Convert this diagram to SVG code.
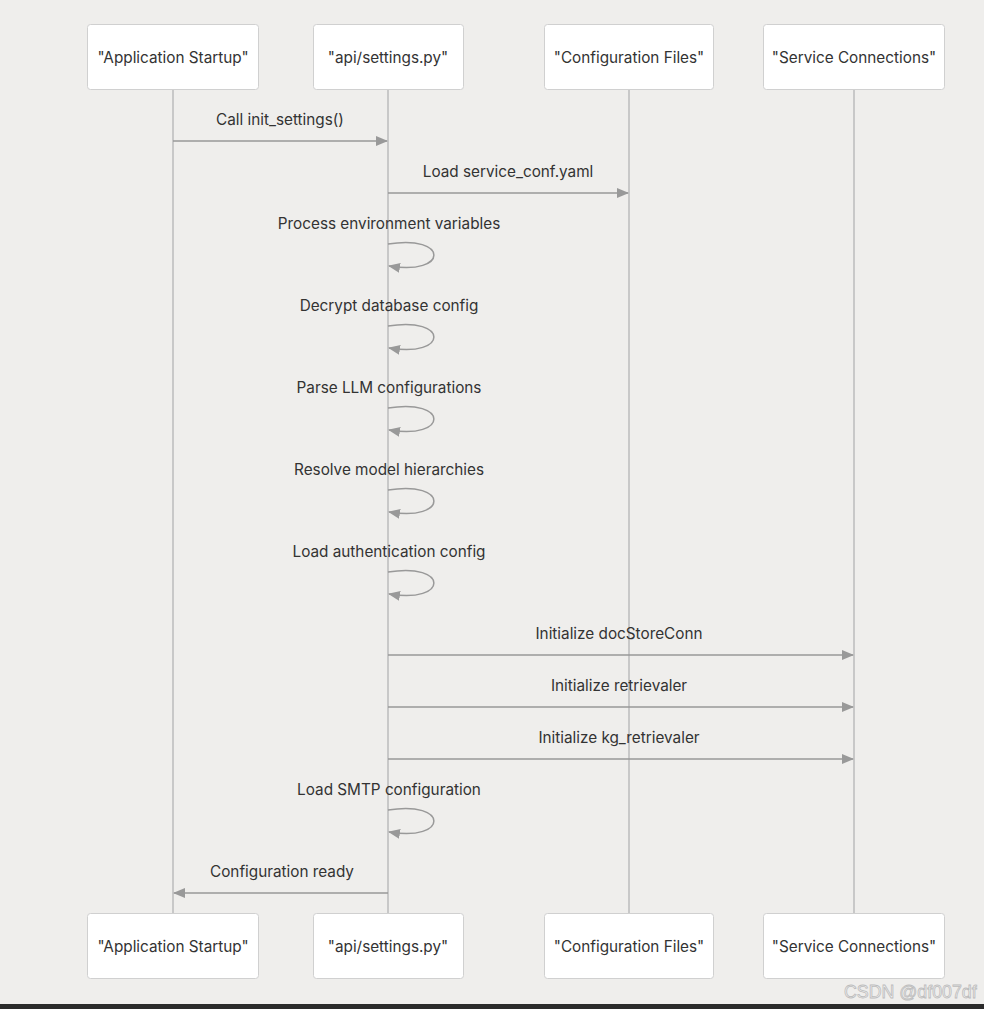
<svg xmlns="http://www.w3.org/2000/svg" width="984" height="1009" viewBox="0 0 984 1009">
<defs>
<style>
.box{fill:#ffffff;stroke:#d0d0d0;stroke-width:1}
.lbl{font-family:Inter,"Liberation Sans",sans-serif;font-size:15.3px;fill:#333333;text-anchor:middle}
.life{stroke:#c8c8c8;stroke-width:2}
.msg{stroke:#999999;stroke-width:1.5;fill:none}
.wm{font-family:"Liberation Sans",Arial,sans-serif;font-size:17.8px;fill:#f2f2f2;stroke:#bcbcbc;stroke-width:0.8}
</style>
<marker id="arr" markerWidth="12" markerHeight="10" refX="11" refY="5" orient="auto" markerUnits="userSpaceOnUse">
<path d="M0,0 L12,5 L0,10 Z" fill="#999999"/>
</marker>
</defs>
<rect x="0" y="0" width="984" height="1009" fill="#efeeec"/>
<g id="lifelines">
<line class="life" x1="173" y1="89" x2="173" y2="913"/>
<line class="life" x1="388" y1="89" x2="388" y2="913"/>
<line class="life" x1="629" y1="89" x2="629" y2="913"/>
<line class="life" x1="854" y1="89" x2="854" y2="913"/>
</g>
<g id="startup-top"><rect class="box" x="87.5" y="24.5" width="171" height="65" rx="3"/><text class="lbl" x="173" y="63">"Application Startup"</text></g>
<g id="settings-top"><rect class="box" x="313.5" y="24.5" width="150" height="65" rx="3"/><text class="lbl" x="388" y="63">"api/settings.py"</text></g>
<g id="config-top"><rect class="box" x="544.5" y="24.5" width="169" height="65" rx="3"/><text class="lbl" x="629" y="63">"Configuration Files"</text></g>
<g id="service-top"><rect class="box" x="763.5" y="24.5" width="181" height="65" rx="3"/><text class="lbl" x="854" y="63">"Service Connections"</text></g>
<g id="startup-bottom"><rect class="box" x="87.5" y="913.5" width="171" height="65" rx="3"/><text class="lbl" x="173" y="952">"Application Startup"</text></g>
<g id="settings-bottom"><rect class="box" x="313.5" y="913.5" width="150" height="65" rx="3"/><text class="lbl" x="388" y="952">"api/settings.py"</text></g>
<g id="config-bottom"><rect class="box" x="544.5" y="913.5" width="169" height="65" rx="3"/><text class="lbl" x="629" y="952">"Configuration Files"</text></g>
<g id="service-bottom"><rect class="box" x="763.5" y="913.5" width="181" height="65" rx="3"/><text class="lbl" x="854" y="952">"Service Connections"</text></g>
<g id="connectors">
<line class="msg" x1="173" y1="141" x2="387" y2="141" marker-end="url(#arr)"/>
<line class="msg" x1="388" y1="193" x2="628" y2="193" marker-end="url(#arr)"/>
<path class="msg" d="M388,244 C449,234 449,276 389,266" marker-end="url(#arr)"/>
<path class="msg" d="M388,326 C449,316 449,358 389,348" marker-end="url(#arr)"/>
<path class="msg" d="M388,408 C449,398 449,440 389,430" marker-end="url(#arr)"/>
<path class="msg" d="M388,490 C449,480 449,522 389,512" marker-end="url(#arr)"/>
<path class="msg" d="M388,572 C449,562 449,604 389,594" marker-end="url(#arr)"/>
<line class="msg" x1="388" y1="655" x2="853" y2="655" marker-end="url(#arr)"/>
<line class="msg" x1="388" y1="707" x2="853" y2="707" marker-end="url(#arr)"/>
<line class="msg" x1="388" y1="759" x2="853" y2="759" marker-end="url(#arr)"/>
<path class="msg" d="M388,810 C449,800 449,842 389,832" marker-end="url(#arr)"/>
<line class="msg" x1="388" y1="893" x2="174" y2="893" marker-end="url(#arr)"/>
</g>
<g id="labels">
<text class="lbl" x="280" y="125">Call init_settings()</text>
<text class="lbl" x="508" y="177">Load service_conf.yaml</text>
<text class="lbl" x="389" y="229">Process environment variables</text>
<text class="lbl" x="389" y="311">Decrypt database config</text>
<text class="lbl" x="389" y="393">Parse LLM configurations</text>
<text class="lbl" x="389" y="475">Resolve model hierarchies</text>
<text class="lbl" x="389" y="557">Load authentication config</text>
<text class="lbl" x="619" y="639">Initialize docStoreConn</text>
<text class="lbl" x="619" y="691">Initialize retrievaler</text>
<text class="lbl" x="619" y="743">Initialize kg_retrievaler</text>
<text class="lbl" x="389" y="795">Load SMTP configuration</text>
<text class="lbl" x="282" y="877">Configuration ready</text>
</g>
<text class="wm" x="844" y="998">CSDN @df007df</text>
<rect x="0" y="1004" width="984" height="5" fill="#2b2b2b"/>
</svg>
